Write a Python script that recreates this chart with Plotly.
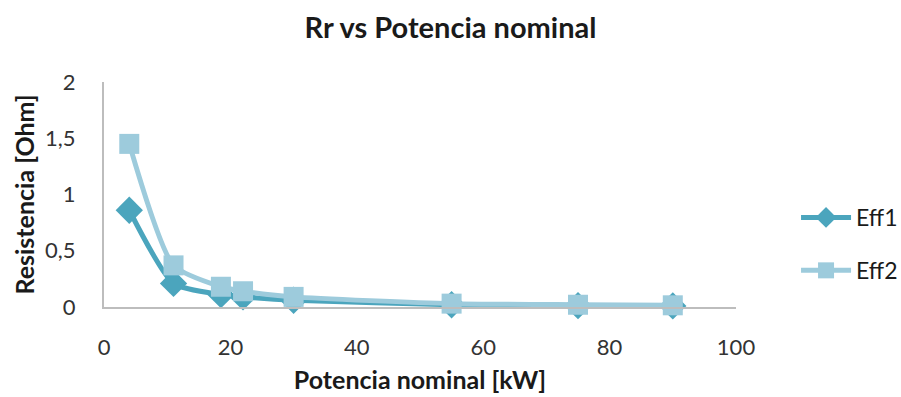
import plotly.graph_objects as go

potencia = [4, 11, 18.5, 22, 30, 55, 75, 90]
eff1 = [0.86, 0.21, 0.11, 0.09, 0.06, 0.02, 0.012, 0.01]
eff2 = [1.45, 0.37, 0.18, 0.14, 0.09, 0.03, 0.02, 0.015]

c1 = "#4BA5BD"
c2 = "#9DCBDC"

fig = go.Figure()
fig.add_trace(go.Scatter(x=potencia, y=eff1, name="Eff1", mode="lines+markers",
                         legendgroup="g1",
                         line=dict(color=c1, width=5, shape="spline", smoothing=0.6),
                         marker=dict(symbol="diamond", size=21, color=c1),
                         cliponaxis=False))
fig.add_trace(go.Scatter(x=potencia, y=eff2, name="Eff2", mode="lines+markers",
                         legendgroup="g2",
                         line=dict(color=c2, width=5, shape="spline", smoothing=0.6),
                         marker=dict(symbol="square", size=20, color=c2),
                         cliponaxis=False))

fig.update_layout(
    width=901, height=397,
    margin=dict(l=104, r=165, t=82, b=90, autoexpand=False),
    paper_bgcolor="white", plot_bgcolor="white",
    font=dict(family="Lato, Open Sans, sans-serif", size=22, color="#333"),
    title=dict(text="<b>Rr vs Potencia nominal</b>", x=0.5, xanchor="center",
               y=0.93, yanchor="middle", font=dict(size=29, color="#1a1a1a"),
               xref="container"),
    showlegend=True,
    legend=dict(x=1.095, y=0.28, xanchor="left", yanchor="middle",
                font=dict(size=23, color="#1a1a1a"), tracegroupgap=20,
                traceorder="grouped", itemwidth=50, bgcolor="rgba(0,0,0,0)"),
    separators=", ",
)
fig.update_xaxes(range=[0, 100], dtick=20, tick0=0, showgrid=False, zeroline=False,
                 showline=True, linecolor="#bdbdbd", linewidth=2, automargin=False,
                 ticks="", tickfont=dict(size=22), ticklabelstandoff=20,
                 title=dict(text="<b>Potencia nominal [kW]</b>", font=dict(size=25, color="#1a1a1a"), standoff=12))
fig.update_yaxes(range=[0, 2], dtick=0.5, tick0=0, showgrid=False, zeroline=False,
                 showline=True, linecolor="#bdbdbd", linewidth=2, automargin=False,
                 ticks="", tickfont=dict(size=22), tickformat=".1~f", ticklabelstandoff=22,
                 title=dict(text="<b>Resistencia [Ohm]</b>", font=dict(size=25, color="#1a1a1a"), standoff=3))

fig.write_html("out.html")
